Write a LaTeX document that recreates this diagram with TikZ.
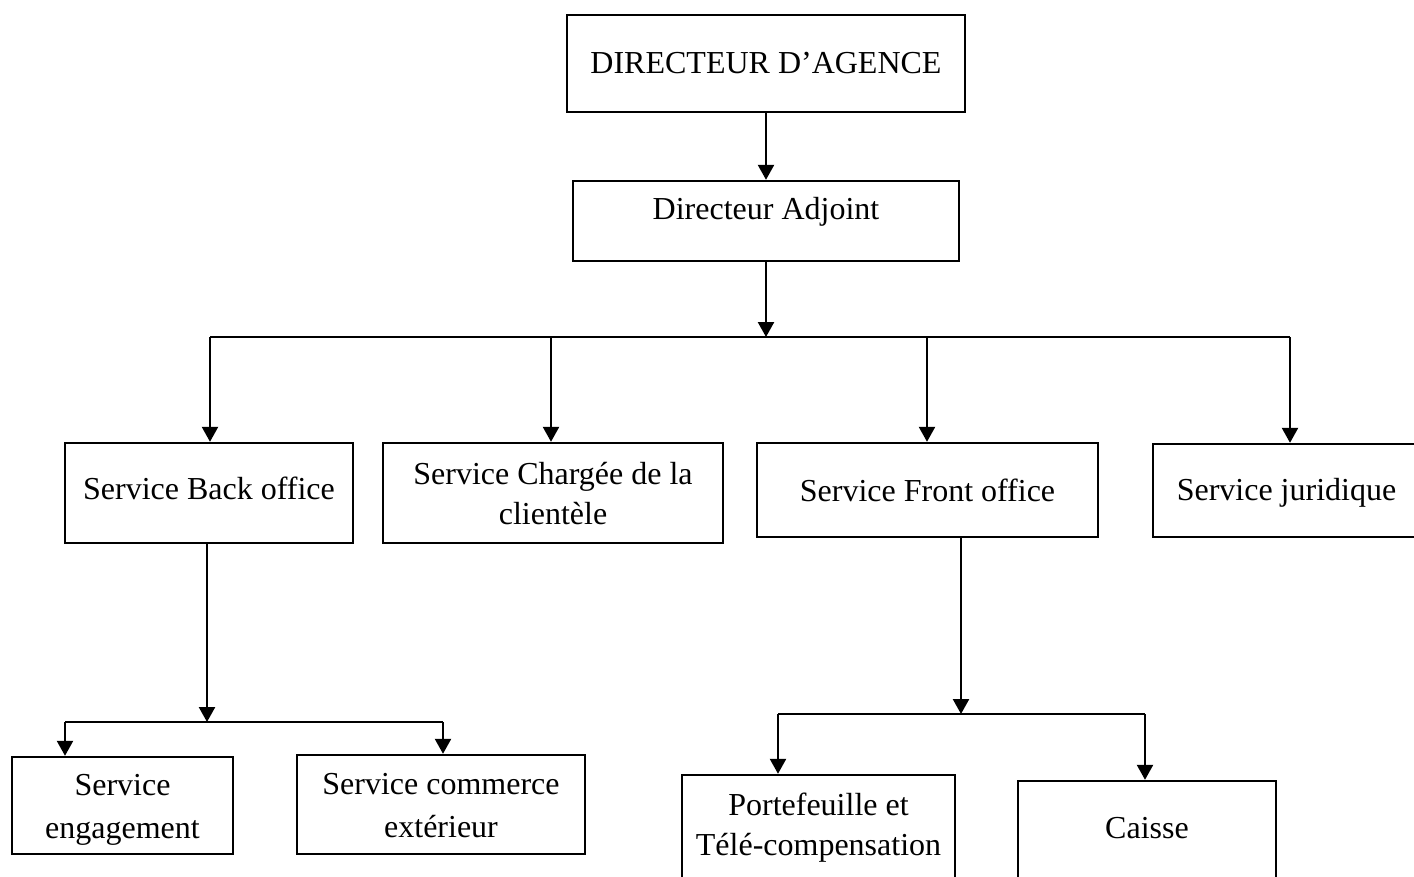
\documentclass[tikz,border=0pt]{standalone}
\usepackage{fontspec}
\setmainfont{Liberation Serif}
\usetikzlibrary{arrows.meta}
\tikzset{
  box/.style={draw, line width=2.4pt, rectangle, inner sep=0pt, align=center,
    font=\fontsize{32}{40}\selectfont},
  arr/.style={line width=2.4pt, -{Triangle[length=15pt,width=16pt]}},
  ln/.style={line width=2.4pt}
}
\newcommand{\up}[2]{\raisebox{#1}[\height][\depth]{#2}}
\newcommand{\twol}[2]{\begin{tabular}{@{}c@{}}#1\\#2\end{tabular}}
\newcommand{\twolw}[2]{\begin{tabular}{@{}c@{}}#1\\[3pt]#2\end{tabular}}
\begin{document}
\begin{tikzpicture}[x=1pt,y=-1pt]
\useasboundingbox (0,0) rectangle (1414,876);
\clip (0,0) rectangle (1414,876);

\node[box, minimum width=398pt, minimum height=97pt] (dir) at (766,63.5) {DIRECTEUR D’AGENCE};
\node[box, minimum width=386pt, minimum height=80pt] (adj) at (766,221) {\up{9pt}{Directeur Adjoint}};

\node[box, minimum width=288pt, minimum height=100pt] (back) at (209,493) {\up{5pt}{Service Back office}};
\node[box, minimum width=340pt, minimum height=100pt] (charg) at (553,493) {\up{-3pt}{\twol{Service Chargée de la}{clientèle}}};
\node[box, minimum width=341pt, minimum height=94pt] (front) at (927.5,490) {Service Front office};
\node[box, minimum width=267pt, minimum height=93pt] (jur) at (1286.5,490.5) {\up{-2pt}{Service juridique}};

\node[box, minimum width=221pt, minimum height=97pt] (eng) at (122.5,805.5) {\up{-3pt}{\twolw{Service}{engagement}}};
\node[box, minimum width=288pt, minimum height=99pt] (comm) at (441,804.5) {\up{-3pt}{\twolw{Service commerce}{extérieur}}};
\node[box, minimum width=273pt, minimum height=125pt] (port) at (818.5,837.5) {\up{10.5pt}{\twol{Portefeuille et}{Télé-compensation}}};
\node[box, minimum width=258pt, minimum height=119pt] (caisse) at (1147,840.5) {\up{12.5pt}{Caisse}};

% top connectors
\draw[arr] (dir.south) -- (dir.south |- adj.north);
\coordinate (bus) at (766,337);
\draw[arr] (adj.south) -- (adj.south |- bus);
\coordinate (bA) at (210,337);
\coordinate (bB) at (551,337);
\coordinate (bC) at (927,337);
\coordinate (bD) at (1290,337);
\draw[ln] (bA) -- (bD);
\draw[arr] (bA) -- (bA |- back.north);
\draw[arr] (bB) -- (bB |- charg.north);
\draw[arr] (bC) -- (bC |- front.north);
\draw[arr] (bD) -- (bD |- jur.north);

% back office subtree
\coordinate (s1) at (207,722);
\coordinate (s1L) at (65,722);
\coordinate (s1R) at (443,722);
\draw[arr] (s1 |- back.south) -- (s1);
\draw[ln] (s1L) -- (s1R);
\draw[arr] (s1L) -- (s1L |- eng.north);
\draw[arr] (s1R) -- (s1R |- comm.north);

% front office subtree
\coordinate (s2) at (961,714);
\coordinate (s2L) at (778,714);
\coordinate (s2R) at (1145,714);
\draw[arr] (s2 |- front.south) -- (s2);
\draw[ln] (s2L) -- (s2R);
\draw[arr] (s2L) -- (s2L |- port.north);
\draw[arr] (s2R) -- (s2R |- caisse.north);
\end{tikzpicture}
\end{document}
